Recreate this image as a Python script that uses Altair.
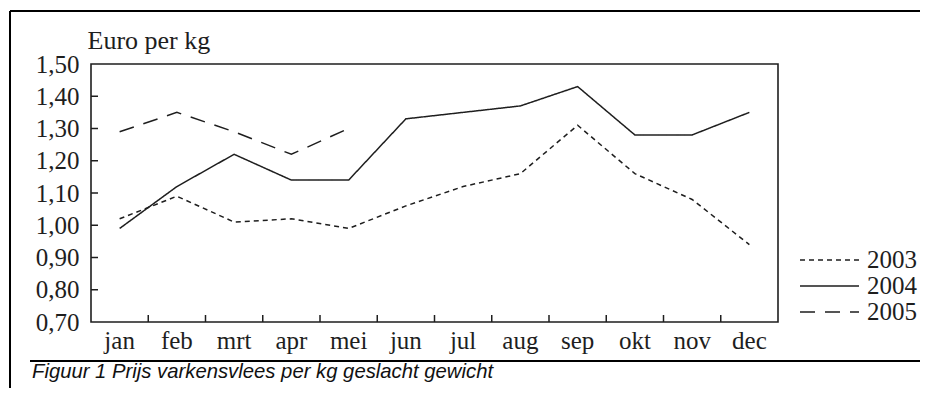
import altair as alt
import pandas as pd

months = ["jan", "feb", "mrt", "apr", "mei", "jun", "jul", "aug", "sep", "okt", "nov", "dec"]
years = ["2003", "2004", "2005"]
v2003 = [1.02, 1.09, 1.01, 1.02, 0.99, 1.06, 1.12, 1.16, 1.31, 1.16, 1.08, 0.94]
v2004 = [0.99, 1.12, 1.22, 1.14, 1.14, 1.33, 1.35, 1.37, 1.43, 1.28, 1.28, 1.35]
v2005 = [1.29, 1.35, 1.29, 1.22, 1.30]
y_ticks = [0.70, 0.80, 0.90, 1.00, 1.10, 1.20, 1.30, 1.40, 1.50]
y_title = "Euro per kg"
caption = "Figuur 1 Prijs varkensvlees per kg geslacht gewicht"

rows = []
for yr, vals in zip(years, [v2003, v2004, v2005]):
    for m, v in zip(months, vals):
        rows.append({"maand": m, "jaar": yr, "prijs": v})
df = pd.DataFrame(rows)

INK = "#1e1e1e"
SERIF = "Liberation Serif"
FS = 25

xscale = alt.Scale(type="band", domain=months, paddingInner=0, paddingOuter=0)
yscale = alt.Scale(domain=[0.70, 1.50], nice=False, zero=False)

xaxis = alt.Axis(title=None, domain=False, ticks=False, tickSize=0,
                 labelAngle=0, labelFont=SERIF, labelFontSize=FS,
                 labelColor=INK, labelPadding=26, labelBaseline="alphabetic",
                 labelOverlap=False)
yaxis = alt.Axis(values=y_ticks, domain=False, ticks=False, tickSize=0,
                 grid=False, labelFont=SERIF, labelFontSize=FS,
                 labelColor=INK, labelPadding=12, labelOverlap=False,
                 labelBound=False, labelFlush=False,
                 labelExpr="replace(format(datum.value, '.2f'), '.', ',')",
                 title=y_title, titleAngle=0, titleAlign="left",
                 titleBaseline="alphabetic", titleX=-4, titleY=-16,
                 titleFont=SERIF, titleFontSize=FS + 1, titleFontWeight="normal",
                 titleColor=INK)

lines = alt.Chart(df).mark_line(strokeWidth=1.5, color=INK).encode(
    x=alt.X("maand:N", scale=xscale, sort=months, bandPosition=0.5, axis=xaxis),
    y=alt.Y("prijs:Q", scale=yscale, axis=yaxis),
    strokeDash=alt.StrokeDash("jaar:N", sort=years,
                              scale=alt.Scale(domain=years, range=[[5, 4], [1, 0], [15, 10]]),
                              legend=alt.Legend(title=None, orient="none", legendX=708,
                                                legendY=183, padding=0, symbolType="stroke",
                                                symbolSize=3481, symbolStrokeWidth=1.5,
                                                symbolStrokeColor=INK, rowPadding=0,
                                                clipHeight=26,
                                                labelOffset=7, labelFont=SERIF,
                                                labelFontSize=FS, labelColor=INK,
                                                labelBaseline="middle")),
    detail="jaar:N",
)

ytick_df = pd.DataFrame({"v": y_ticks[1:-1]})
yticks = alt.Chart(ytick_df).mark_rule(color=INK, strokeWidth=1.5).encode(
    y=alt.Y("v:Q", scale=yscale, axis=yaxis), x=alt.value(0), x2=alt.value(7))

xtick_df = pd.DataFrame({"m": months[1:]})
xticks = alt.Chart(xtick_df).mark_rule(color=INK, strokeWidth=1.5).encode(
    x=alt.X("m:N", scale=xscale, sort=months, bandPosition=0, axis=xaxis),
    y=alt.value(258), y2=alt.value(251))

one = pd.DataFrame({"a": [0]})
frame_top = alt.Chart(one).mark_rule(color="#000", strokeWidth=2).encode(
    x=alt.value(-81), x2=alt.value(850), y=alt.value(-53))
frame_left = alt.Chart(one).mark_rule(color="#000", strokeWidth=2).encode(
    x=alt.value(-81), y=alt.value(-53), y2=alt.value(340))
frame_bottom = alt.Chart(one).mark_rule(color="#000", strokeWidth=2).encode(
    x=alt.value(-61), x2=alt.value(831), y=alt.value(297))
cap = alt.Chart(one).mark_text(align="left", baseline="alphabetic", font="Liberation Sans",
                               fontStyle="italic", fontSize=20.3, color="#111").encode(
    x=alt.value(-59), y=alt.value(314), text=alt.value(caption))

chart = alt.layer(lines, yticks, xticks, frame_top, frame_left, frame_bottom, cap).properties(
    width=687, height=258,
    padding={"left": 83, "top": 56, "right": 142, "bottom": 66},
    autosize=alt.AutoSizeParams(type="none"),
    background="white",
).configure_view(stroke=INK, strokeWidth=1.6).configure_axis(
    grid=False, labelOverlap=False).configure_legend(labelFont=SERIF, labelFontSize=FS)

chart.save("out.html", embed_options={"renderer": "svg", "actions": False})
